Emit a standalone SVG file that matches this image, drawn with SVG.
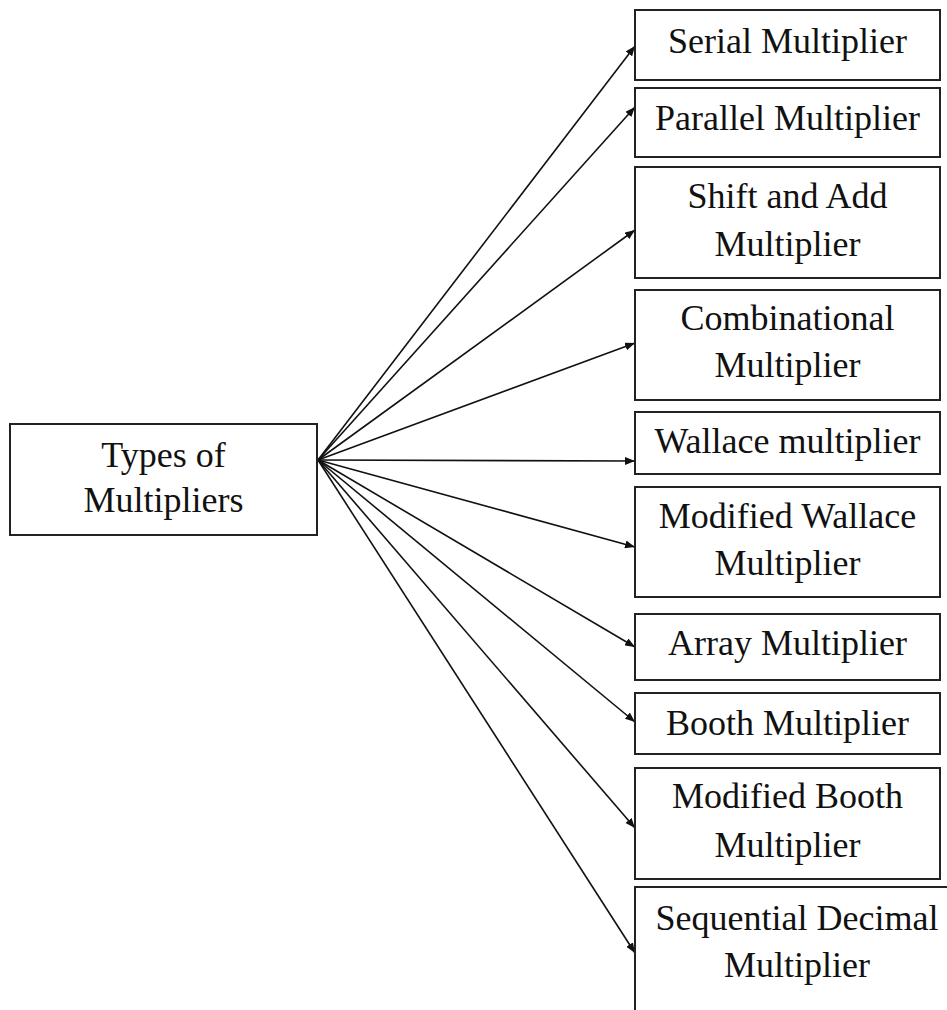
<svg xmlns="http://www.w3.org/2000/svg" width="947" height="1010" viewBox="0 0 947 1010">
  <style>
    .box { fill: #ffffff; stroke: #222222; stroke-width: 2; }
    .lbl { font-family: "Liberation Serif", "Times New Roman", serif; font-size: 36px; fill: #111111; text-anchor: middle; }
    .edge { stroke: #111111; stroke-width: 1.6; fill: none; marker-end: url(#arrow); }
  </style>
  <defs>
    <marker id="arrow" viewBox="0 0 10 8" refX="10" refY="4" markerWidth="10" markerHeight="8" markerUnits="userSpaceOnUse" orient="auto">
      <path d="M0,0 L10,4 L0,8 z" fill="#111111"/>
    </marker>
  </defs>
  <rect width="947" height="1010" fill="#ffffff"/>

  <g id="connectors">
    <line class="edge" x1="318" y1="460" x2="635" y2="46"/>
    <line class="edge" x1="318" y1="460" x2="635" y2="107"/>
    <line class="edge" x1="318" y1="460" x2="635" y2="230"/>
    <line class="edge" x1="318" y1="460" x2="635" y2="343"/>
    <line class="edge" x1="318" y1="460" x2="635" y2="461"/>
    <line class="edge" x1="318" y1="460" x2="635" y2="547"/>
    <line class="edge" x1="318" y1="460" x2="635" y2="647"/>
    <line class="edge" x1="318" y1="460" x2="635" y2="722"/>
    <line class="edge" x1="318" y1="460" x2="635" y2="828"/>
    <line class="edge" x1="318" y1="460" x2="635" y2="953"/>
  </g>

  <g id="types-of-multipliers">
    <rect class="box" x="10" y="424" width="307" height="111"/>
    <text class="lbl" x="163.5" y="467">Types of</text>
    <text class="lbl" x="163.5" y="512">Multipliers</text>
  </g>

  <g id="serial">
    <rect class="box" x="635" y="10" width="305" height="70"/>
    <text class="lbl" x="787.5" y="53">Serial Multiplier</text>
  </g>

  <g id="parallel">
    <rect class="box" x="635" y="88" width="305" height="69"/>
    <text class="lbl" x="787.5" y="130">Parallel Multiplier</text>
  </g>

  <g id="shift-and-add">
    <rect class="box" x="635" y="167" width="305" height="111"/>
    <text class="lbl" x="787.5" y="208">Shift and Add</text>
    <text class="lbl" x="787.5" y="256">Multiplier</text>
  </g>

  <g id="combinational">
    <rect class="box" x="635" y="290" width="305" height="110"/>
    <text class="lbl" x="787.5" y="330">Combinational</text>
    <text class="lbl" x="787.5" y="377">Multiplier</text>
  </g>

  <g id="wallace">
    <rect class="box" x="635" y="412" width="305" height="62"/>
    <text class="lbl" x="787.5" y="453">Wallace multiplier</text>
  </g>

  <g id="modified-wallace">
    <rect class="box" x="635" y="487" width="305" height="110"/>
    <text class="lbl" x="787.5" y="528">Modified Wallace</text>
    <text class="lbl" x="787.5" y="575">Multiplier</text>
  </g>

  <g id="array">
    <rect class="box" x="635" y="614" width="305" height="66"/>
    <text class="lbl" x="787.5" y="655">Array Multiplier</text>
  </g>

  <g id="booth">
    <rect class="box" x="635" y="693" width="305" height="61"/>
    <text class="lbl" x="787.5" y="735">Booth Multiplier</text>
  </g>

  <g id="modified-booth">
    <rect class="box" x="635" y="768" width="305" height="111"/>
    <text class="lbl" x="787.5" y="808">Modified Booth</text>
    <text class="lbl" x="787.5" y="857">Multiplier</text>
  </g>

  <g id="sequential-decimal">
    <rect class="box" x="635" y="887" width="340" height="160"/>
    <text class="lbl" x="797" y="930">Sequential Decimal</text>
    <text class="lbl" x="797" y="977">Multiplier</text>
  </g>
</svg>
